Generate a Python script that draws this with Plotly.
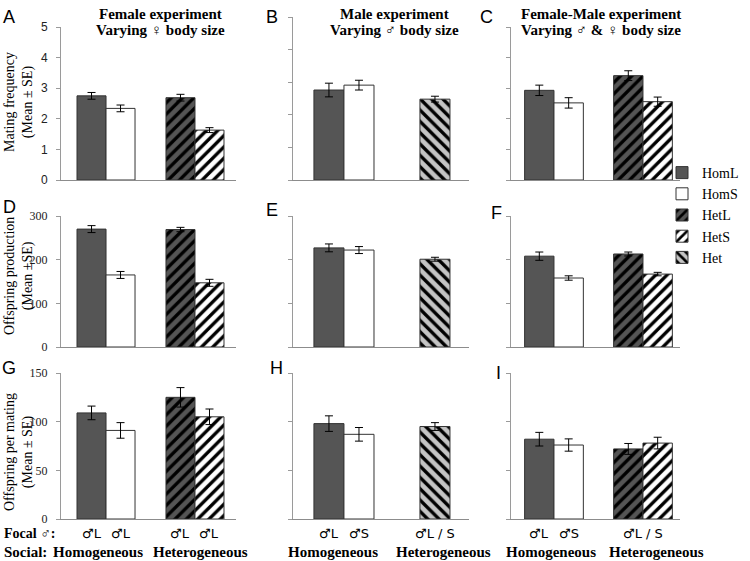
import plotly.graph_objects as go

W, H = 750, 561
SERIF = "Liberation Serif, Times New Roman, serif"
SANS = "Liberation Sans, Arial, sans-serif"
SYM = "DejaVu Sans, sans-serif"

# ---------------- data ----------------
groups = ["Homogeneous", "Heterogeneous"]
legend_order = ["HomL", "HomS", "HetL", "HetS", "Het"]

four_series = ["HomL", "HomS", "HetL", "HetS"]
four_groups = ["Homogeneous", "Homogeneous", "Heterogeneous", "Heterogeneous"]
three_series = ["HomL", "HomS", "Het"]
three_groups = ["Homogeneous", "Homogeneous", "Heterogeneous"]

# Row 1: mating frequency (Mean ± SE)
A_mean = [2.75, 2.34, 2.69, 1.63]
A_se = [0.11, 0.11, 0.11, 0.08]
B_mean = [2.76, 2.91, 2.48]
B_se = [0.21, 0.15, 0.09]
C_mean = [2.93, 2.52, 3.41, 2.56]
C_se = [0.17, 0.17, 0.16, 0.15]
# Row 2: offspring production
D_mean = [270, 165, 269, 147]
D_se = [8, 8, 5, 8]
E_mean = [227, 222, 201]
E_se = [9, 8, 4.5]
F_mean = [208, 158, 213, 167]
F_se = [9.5, 5, 4.5, 4]
# Row 3: offspring per mating
G_mean = [109, 91, 125, 105]
G_se = [7, 8, 10, 8]
H_mean = [98, 87, 95]
H_se = [8, 7, 4]
I_mean = [82, 76, 72, 78]
I_se = [7, 6.3, 5.6, 6]

titles_line1 = ["Female experiment", "Male experiment", "Female-Male experiment"]
titles_line2 = ["Varying \u2640 body size", "Varying \u2642 body size", "Varying \u2642 & \u2640 body size"]
y_titles = ["Mating frequency<br>(Mean \u00b1 SE)",
            "Offspring production<br>(Mean \u00b1SE)",
            "Offspring per mating<br>(Mean \u00b1 SE)"]
row_ranges = [[0, 5], [0, 300], [0, 150]]
row_dticks = [1, 100, 50]

focal_G = {"Homogeneous": ["\u2642L", "\u2642L"], "Heterogeneous": ["\u2642L", "\u2642L"]}
focal_H = {"Homogeneous": ["\u2642L", "\u2642S"], "Heterogeneous": ["\u2642L / S"]}
focal_I = {"Homogeneous": ["\u2642L", "\u2642S"], "Heterogeneous": ["\u2642L / S"]}

panels = [
    ("A", four_series, four_groups, A_mean, A_se, 1, 1, None),
    ("B", three_series, three_groups, B_mean, B_se, 1, 2, None),
    ("C", four_series, four_groups, C_mean, C_se, 1, 3, None),
    ("D", four_series, four_groups, D_mean, D_se, 2, 1, None),
    ("E", three_series, three_groups, E_mean, E_se, 2, 2, None),
    ("F", four_series, four_groups, F_mean, F_se, 2, 3, None),
    ("G", four_series, four_groups, G_mean, G_se, 3, 1, focal_G),
    ("H", three_series, three_groups, H_mean, H_se, 3, 2, focal_H),
    ("I", four_series, four_groups, I_mean, I_se, 3, 3, focal_I),
]

# ---------------- styles / geometry ----------------
DARK = "#555555"
styles = {
    "HomL": dict(color=DARK, pattern=dict(shape="")),
    "HomS": dict(color="white", pattern=dict(shape="")),
    "HetL": dict(color=DARK, pattern=dict(shape="/", fgcolor="black", bgcolor=DARK,
                                          size=8, solidity=0.42, fillmode="replace")),
    "HetS": dict(color="white", pattern=dict(shape="/", fgcolor="black", bgcolor="white",
                                             size=8, solidity=0.42, fillmode="replace")),
    "Het": dict(color="#c4c4c4", pattern=dict(shape="\\", fgcolor="black", bgcolor="#c4c4c4",
                                              size=8, solidity=0.42, fillmode="replace")),
}

col_px = {1: (61, 236), 2: (293, 469), 3: (511, 680)}
col_xrange = {1: [-0.506, 1.461], 2: [-0.560, 1.374], 3: [-0.483, 1.416]}
bar_w = {1: 0.326, 2: 0.33, 3: 0.33}
row_py = {1: (180, 27), 2: (347, 216), 3: (519, 373)}


def px(x):
    return x / W


def py(y):
    return 1 - y / H


fig = go.Figure()
shown = set()
annotations = []
letter_pos = {"A": (9, 17), "B": (272, 17), "C": (486, 17), "D": (9, 207), "E": (272, 210),
              "F": (496, 213), "G": (9, 368), "H": (276, 368), "I": (498, 373)}

for k, (letter, series, grps, means, ses, r, c, focal) in enumerate(panels, start=1):
    w = bar_w[c]
    xa = "x" if k == 1 else f"x{k}"
    ya = "y" if k == 1 else f"y{k}"
    counts = {g: grps.count(g) for g in groups}
    seen = {g: 0 for g in groups}
    for s, g, m, e in zip(series, grps, means, ses):
        n = counts[g]
        i = seen[g]
        seen[g] += 1
        off = -w / 2 if n == 1 else (-w if i == 0 else 0)
        st = styles[s]
        fig.add_trace(go.Bar(
            x=[groups.index(g)], y=[m], width=[w], offset=[off],
            error_y=dict(type="data", array=[e], color="black", thickness=1, width=4),
            marker=dict(color=st["color"], line=dict(color="#333333", width=1),
                        pattern=st["pattern"]),
            name=s, legendgroup=s, showlegend=s not in shown,
            legendrank=legend_order.index(s) + 1,
            xaxis=xa, yaxis=ya, hoverinfo="skip",
        ))
        shown.add(s)

    x0, x1 = col_px[c]
    yb, yt = row_py[r]
    if letter == "B":
        yt = 17
    first_col = c == 1
    fig.layout[f"xaxis{'' if k == 1 else k}"] = dict(
        domain=[px(x0), px(x1)], range=col_xrange[c], anchor=ya,
        showgrid=False, zeroline=False, showticklabels=False, ticks="",
        showline=True, linecolor="#8c8c8c", linewidth=1, fixedrange=True)
    fig.layout[f"yaxis{'' if k == 1 else k}"] = dict(
        domain=[py(yb), py(yt)], range=row_ranges[r - 1], dtick=row_dticks[r - 1],
        anchor=xa, showgrid=False, zeroline=False,
        showline=True, linecolor="#9a9a9a", linewidth=1,
        ticks="outside", ticklen=4, tickcolor="#9a9a9a",
        ticklabelstandoff=6, showticklabels=first_col,
        tickfont=dict(family=SANS if r == 1 else SERIF, size=12, color="#222222"),
        fixedrange=True)

    lx, ly = letter_pos[letter]
    annotations.append(dict(text=letter, x=px(lx), y=py(ly), xref="paper", yref="paper",
                            xanchor="center", yanchor="middle", showarrow=False,
                            font=dict(family=SANS, size=18, color="black")))

    if focal is not None:
        for g in groups:
            labs = focal[g]
            gi = groups.index(g)
            if len(labs) == 1:
                xs = [gi]
            else:
                xs = [gi - w / 2, gi + w / 2]
            for xv, t in zip(xs, labs):
                annotations.append(dict(text=t, x=xv, y=py(533), xref=xa, yref="paper",
                                        xanchor="center", yanchor="middle", showarrow=False,
                                        font=dict(family=SYM, size=13, color="black")))
        social_x = {1: (98, 200), 2: (333, 443), 3: (551, 656)}[c]
        for sx, g in zip(social_x, groups):
            annotations.append(dict(text=f"<b>{g}</b>", x=px(sx), y=py(552), xref="paper",
                                    yref="paper", xanchor="center", yanchor="middle",
                                    showarrow=False,
                                    font=dict(family=SERIF, size=15, color="black")))

# column titles
title_cx = [160, 395, 601]
for cx, t1, t2 in zip(title_cx, titles_line1, titles_line2):
    annotations.append(dict(text=f"<b>{t1}</b>", x=px(cx), y=py(14), xref="paper", yref="paper",
                            xanchor="center", yanchor="middle", showarrow=False,
                            font=dict(family=SERIF, size=15, color="black")))
    annotations.append(dict(text=f"<b>{t2}</b>", x=px(cx), y=py(30), xref="paper", yref="paper",
                            xanchor="center", yanchor="middle", showarrow=False,
                            font=dict(family=SERIF, size=15, color="black")))

# y titles
for cy, t in zip([102, 276, 452], y_titles):
    annotations.append(dict(text=t, x=px(19), y=py(cy), xref="paper", yref="paper",
                            xanchor="center", yanchor="middle", textangle=-90, showarrow=False,
                            font=dict(family=SERIF, size=14, color="black")))

annotations.append(dict(text="<b>Focal \u2642:</b>", x=px(2), y=py(533), xref="paper", yref="paper",
                        xanchor="left", yanchor="middle", showarrow=False,
                        font=dict(family=SERIF, size=14, color="black")))
annotations.append(dict(text="<b>Social:</b>", x=px(2), y=py(552), xref="paper", yref="paper",
                        xanchor="left", yanchor="middle", showarrow=False,
                        font=dict(family=SERIF, size=15, color="black")))

fig.update_layout(
    width=W, height=H,
    margin=dict(l=0, r=0, t=0, b=0, autoexpand=False),
    paper_bgcolor="white", plot_bgcolor="white",
    barmode="overlay",
    showlegend=True,
    legend=dict(x=px(662), y=py(157), xanchor="left", yanchor="top",
                font=dict(family=SERIF, size=14, color="black"),
                bgcolor="rgba(0,0,0,0)", tracegroupgap=0, itemwidth=30,
                traceorder="normal"),
    annotations=annotations,
)

fig.write_html("out.html",
               config={"displayModeBar": False},
               post_script="document.body.style.margin='0';document.body.style.overflow='hidden';")
